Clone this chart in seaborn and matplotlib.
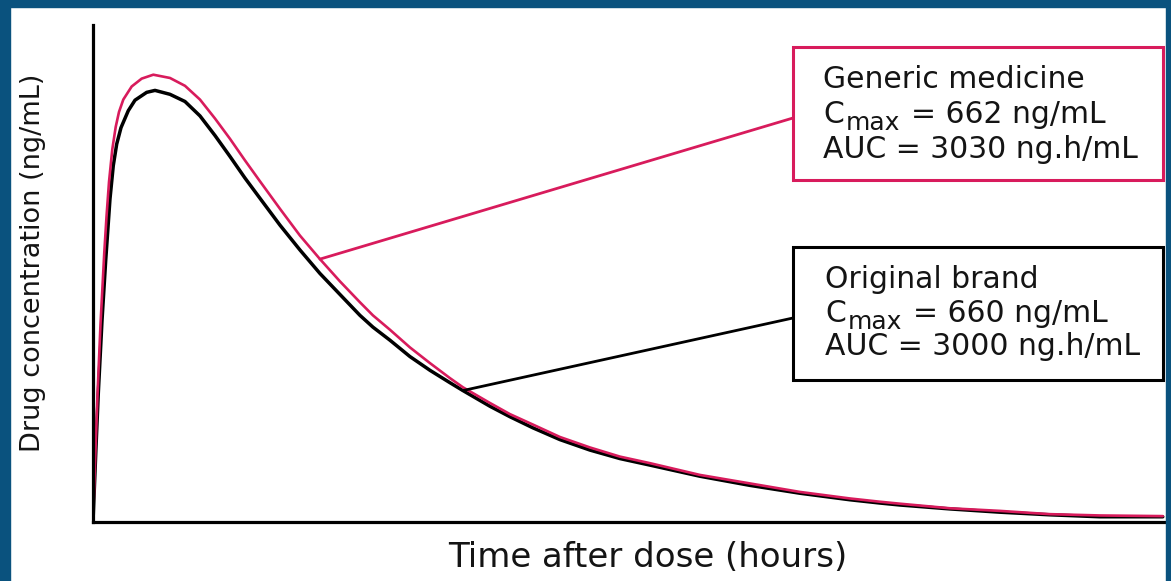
import numpy as np
import pandas as pd
import matplotlib
matplotlib.use("Agg")
import matplotlib.pyplot as plt
import seaborn as sns
from matplotlib.patches import Rectangle

# ── Data (hours, ng/mL) ──────────────────────────────────────────────────────
brand_t = [0.000, 0.067, 0.119, 0.202, 0.285, 0.381, 0.455, 0.532, 0.628, 0.792,
           0.942, 1.204, 1.391, 1.727, 2.064, 2.400, 2.737, 3.073, 3.409, 3.746,
           4.194, 4.643, 5.092, 5.540, 5.989, 6.280, 6.662, 7.110, 7.559, 8.008,
           8.299, 8.905, 9.353, 9.869, 10.475, 11.148, 11.821, 12.494, 13.615, 14.737,
           15.858, 16.980, 17.653, 18.101, 19.223, 20.344, 21.466, 22.587, 24.000]
brand_c = [0, 114, 197, 308, 400, 494, 545, 578, 603, 629,
           645, 657, 660, 654, 643, 621, 591, 559, 526, 495,
           454, 416, 380, 348, 316, 298, 278, 253, 232, 213,
           201, 177, 161, 144, 126, 110, 97, 87, 70, 56,
           44, 34, 29, 26, 20, 15, 11, 8, 8]

generic_t = [0.000, 0.056, 0.101, 0.168, 0.253, 0.303, 0.359, 0.433, 0.509, 0.583,
             0.680, 0.868, 1.092, 1.353, 1.727, 2.064, 2.400, 2.737, 3.073, 3.409,
             3.746, 4.194, 4.643, 5.092, 5.540, 5.989, 6.280, 6.662, 7.110, 7.559,
             8.008, 8.299, 8.905, 9.353, 9.869, 10.475, 11.148, 11.821, 12.494, 13.615,
             14.737, 15.858, 16.980, 17.653, 18.101, 19.223, 20.344, 21.466, 22.587, 24.000]
generic_c = [0, 110, 194, 302, 412, 467, 520, 570, 604, 627,
             646, 666, 678, 684, 679, 667, 646, 617, 586, 553,
             521, 479, 438, 402, 368, 336, 316, 294, 267, 243,
             220, 206, 182, 165, 149, 130, 114, 100, 90, 72,
             59, 46, 36, 31, 28, 21, 17, 12, 10, 9]

generic_lines = ["Generic medicine", "662 ng/mL", "AUC = 3030 ng.h/mL"]
brand_lines = ["Original brand", "660 ng/mL", "AUC = 3000 ng.h/mL"]

RED = "#d81b5c"
BLACK = "#000000"
BLUE = "#0a527e"
TXT = "#141414"

W, H = 1171, 581

df = pd.concat([
    pd.DataFrame({"t": brand_t, "c": brand_c, "product": "Original brand"}),
    pd.DataFrame({"t": generic_t, "c": generic_c, "product": "Generic medicine"}),
])

sns.set_theme(style="white")
plt.rcParams["font.family"] = ["DejaVu Sans"]

fig = plt.figure(figsize=(W / 100, H / 100), dpi=100)
ax = fig.add_axes([93 / W, 1 - 522 / H, (1165 - 93) / W, (522 - 25) / H])

sns.lineplot(data=df, x="t", y="c", hue="product", estimator=None, sort=False,
             palette={"Original brand": BLACK, "Generic medicine": RED},
             hue_order=["Original brand", "Generic medicine"],
             linewidth=2.5, legend=False, ax=ax)
ax.lines[1].set_linewidth(1.9)
for ln in ax.lines:
    ln.set_solid_joinstyle("round")
    ln.set_solid_capstyle("round")

ax.set_xlim(0, 24.05)
ax.set_ylim(0, 760)
ax.set_xticks([]); ax.set_yticks([])
for s in ["top", "right"]:
    ax.spines[s].set_visible(False)
for s in ["left", "bottom"]:
    ax.spines[s].set_color("black")
    ax.spines[s].set_linewidth(2.3)
ax.set_xlabel(""); ax.set_ylabel("")

# axis titles
fig.text(648 / W, 1 - 567 / H, "Time after dose (hours)", fontsize=24.5,
         ha="center", va="baseline", color=TXT)
fig.text(33 / W, 1 - 263 / H, "Drug concentration (ng/mL)", fontsize=19.5,
         rotation=90, ha="center", va="center", color=TXT)


def px(x, y):
    return (x / W, 1 - y / H)


def info_box(left, top, right, bottom, color, lines, text_x, baselines, anchor, end_y):
    fig.add_artist(Rectangle(px(left, bottom), (right - left) / W, (bottom - top) / H,
                             transform=fig.transFigure, fill=False,
                             edgecolor=color, linewidth=2.2))
    kw = dict(va="baseline", color=TXT)
    fig.text(*px(text_x, baselines[0]), lines[0], fontsize=21.5, **kw)
    fig.text(*px(text_x, baselines[1]), "C", fontsize=21.5, **kw)
    fig.text(*px(text_x + 23, baselines[1] + 7), "max", fontsize=18, **kw)
    fig.text(*px(text_x + 88, baselines[1]), "= " + lines[1], fontsize=21.5, **kw)
    fig.text(*px(text_x, baselines[2]), lines[2], fontsize=21.5, **kw)
    ax.annotate("", xy=anchor, xycoords="data",
                xytext=px(left, end_y), textcoords="figure fraction",
                arrowprops=dict(arrowstyle="-", color=color, lw=2.0,
                                shrinkA=0, shrinkB=0))


info_box(793, 47, 1163, 180, RED, generic_lines, 823, [88, 123, 158],
         (generic_t[23], generic_c[23]), 118)
info_box(793, 247, 1163, 380, BLACK, brand_lines, 825, [288, 322, 355],
         (brand_t[30], brand_c[30]), 318)

# dark blue frame
fig.add_artist(Rectangle((0, 1 - 7 / H), 1, 7 / H, transform=fig.transFigure,
                         color=BLUE, zorder=10))
fig.add_artist(Rectangle((0, 0), 10 / W, 1, transform=fig.transFigure,
                         color=BLUE, zorder=10))
fig.add_artist(Rectangle((1 - 5 / W, 0), 5 / W, 1, transform=fig.transFigure,
                         color=BLUE, zorder=10))

fig.savefig("out.png", dpi=100, facecolor="white")
